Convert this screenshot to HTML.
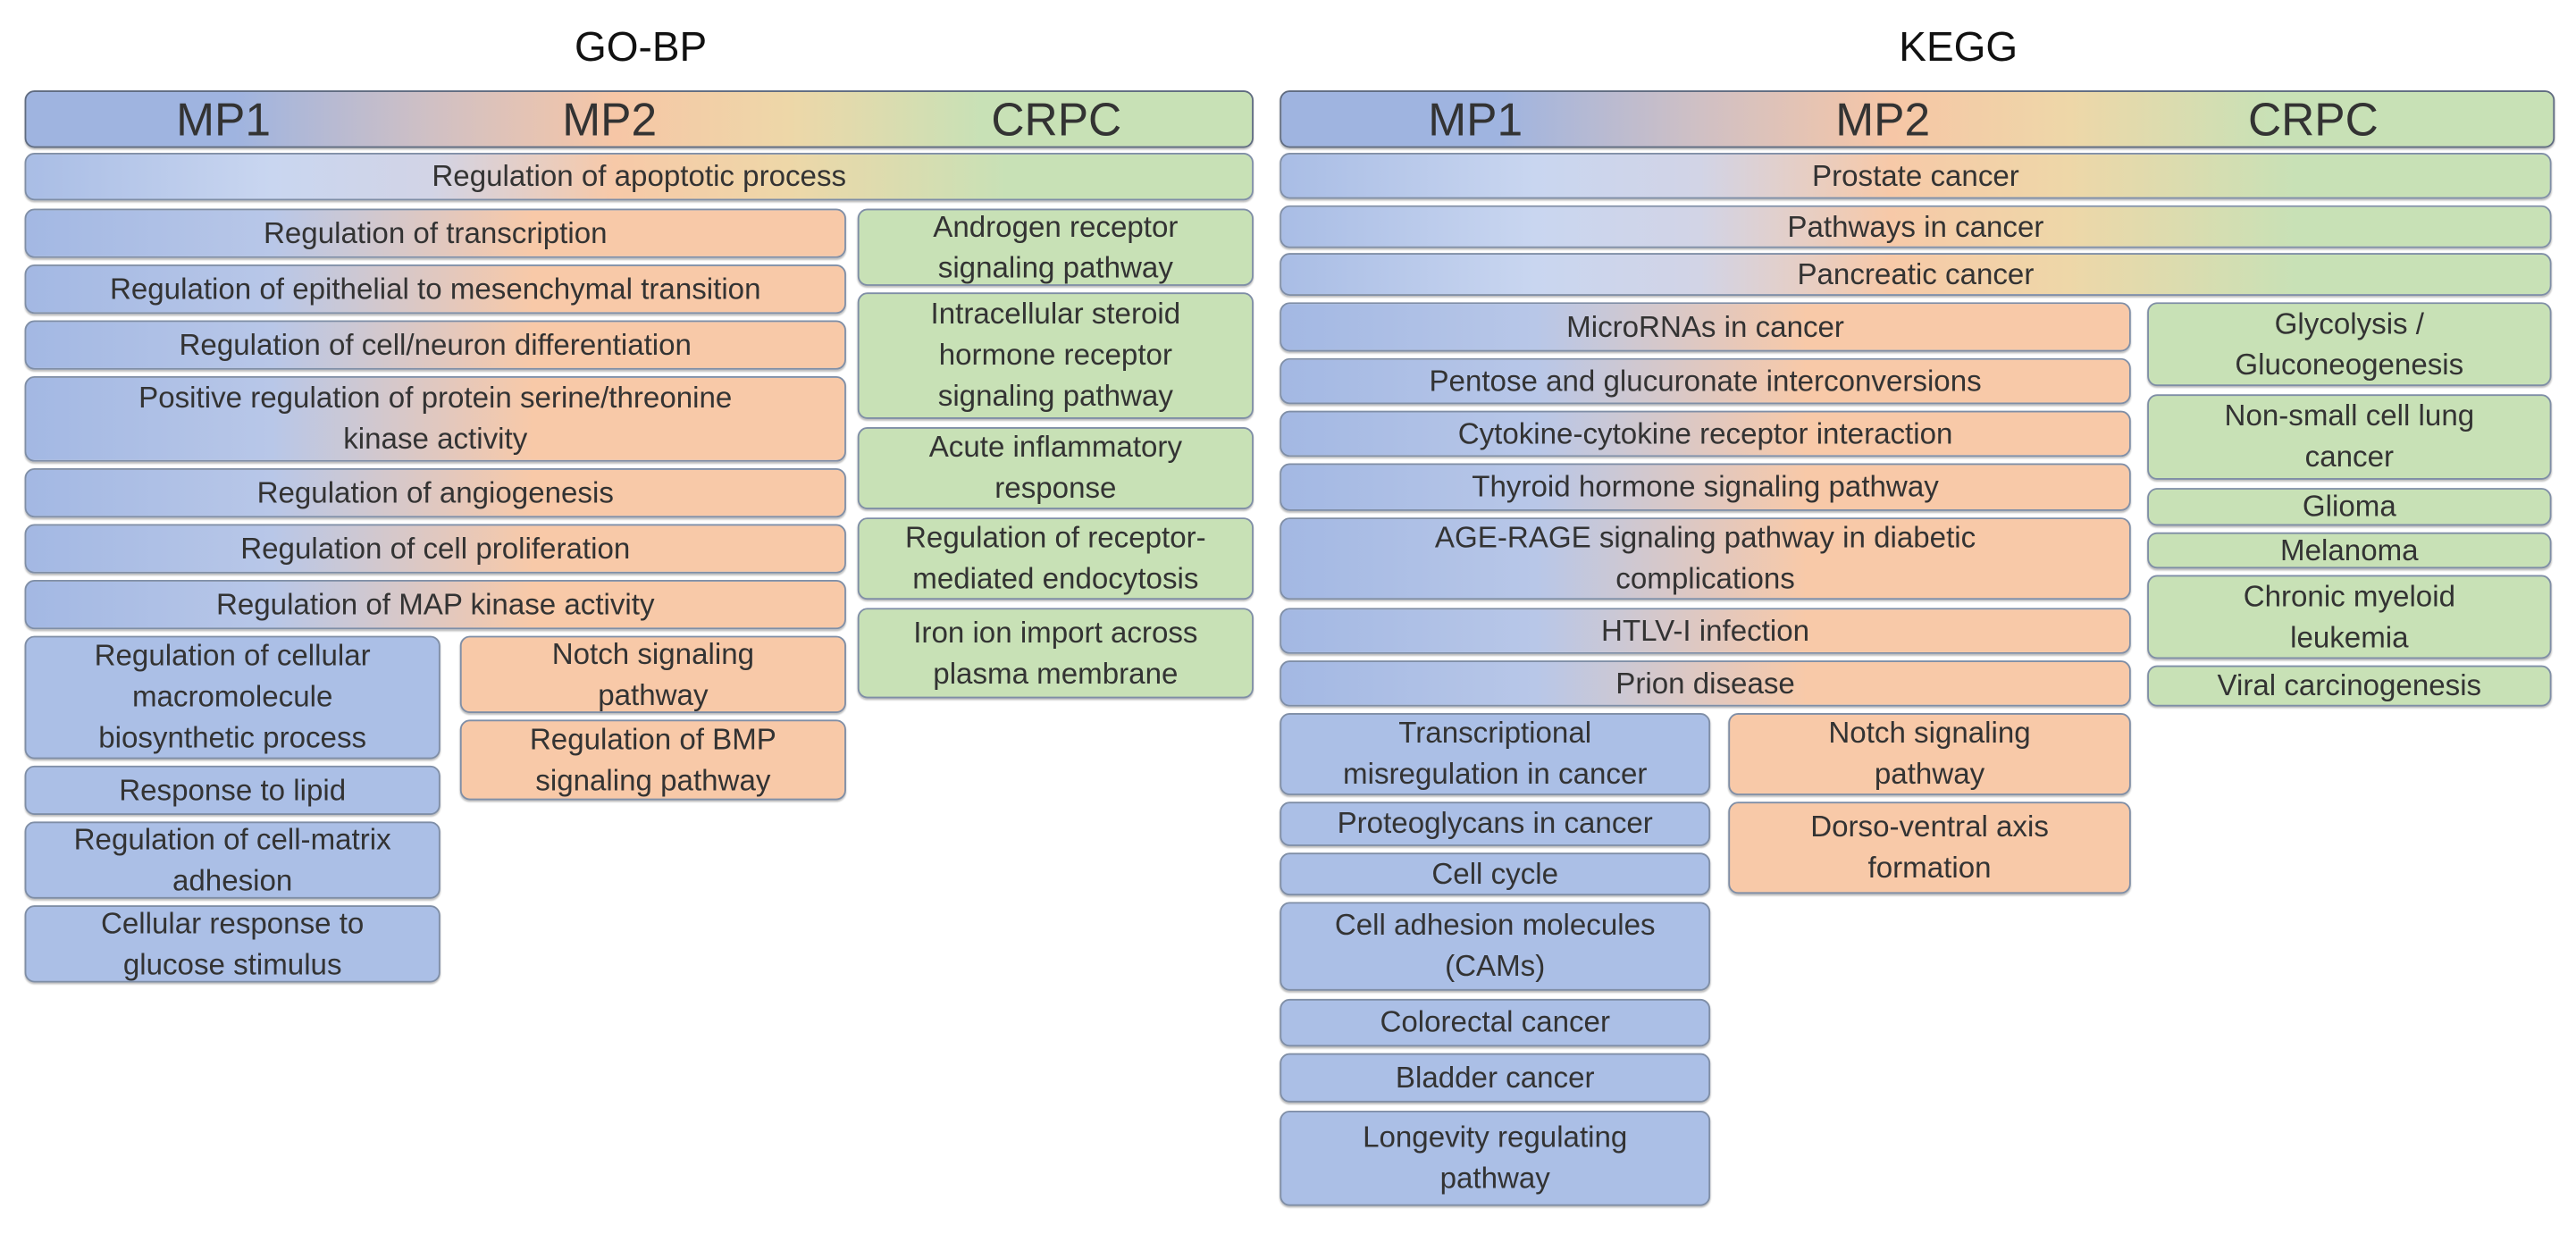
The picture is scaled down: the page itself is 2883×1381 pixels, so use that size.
<!DOCTYPE html>
<html><head><meta charset="utf-8"><style>
html,body{margin:0;padding:0;background:#fff;width:2883px;height:1381px;overflow:hidden}
#s{position:absolute;left:0;top:0;width:1568px;height:751px;transform:scale(1.8387);transform-origin:0 0;font-family:"Liberation Sans",Arial,sans-serif;color:#333}
.b{position:absolute;box-sizing:border-box;border:1.2px solid #7f8ea6;border-radius:6px;display:flex;align-items:center;justify-content:center;text-align:center;font-size:18px;line-height:25px;box-shadow:0 1px 1px rgba(0,0,0,.25)}
.bl{background:#abbfe6}.or{background:#f8c9a8}.gr{background:#c8e1b6}
.bo{background:linear-gradient(90deg,#a3b8e3 0%,#b8c7e8 30%,#f8c9a8 62%,#f8c9a8 100%)}
.full{background:linear-gradient(90deg,#a9bde5 0%,#c9d6f0 20%,#d2d4e6 33%,#f7c9a8 48%,#eed7a8 62%,#c8e1b6 80%,#c8e1b6 100%)}
.hd{background:linear-gradient(90deg,#9fb4e0 0%,#9fb4e0 17%,#d0c0c4 33%,#f6c6a6 48%,#eed7a8 62%,#c8e1b6 78%,#c8e1b6 100%);border:1.5px solid #5f6b80;font-size:28px;display:block}
.hd span{position:absolute;top:50%;transform:translate(-50%,-50%)}
.t{position:absolute;font-size:25px;color:#111;transform:translateX(-50%)}
</style></head><body><div id="s">
<div class="t" style="left:390px;top:15px">GO-BP</div>
<div class="t" style="left:1192px;top:15px">KEGG</div>

<div class="b hd" style="left:15px;top:55px;width:748px;height:35px"><span style="left:120px">MP1</span><span style="left:355px">MP2</span><span style="left:627px">CRPC</span></div>
<div class="b full" style="left:15px;top:93px;width:748px;height:29px">Regulation of apoptotic process</div>
<div class="b bo" style="left:15px;top:127px;width:500px;height:30px">Regulation of transcription</div>
<div class="b bo" style="left:15px;top:161px;width:500px;height:30px">Regulation of epithelial to mesenchymal transition</div>
<div class="b bo" style="left:15px;top:195px;width:500px;height:30px">Regulation of cell/neuron differentiation</div>
<div class="b bo" style="left:15px;top:229px;width:500px;height:52px">Positive regulation of protein serine/threonine<br>kinase activity</div>
<div class="b bo" style="left:15px;top:285px;width:500px;height:30px">Regulation of angiogenesis</div>
<div class="b bo" style="left:15px;top:319px;width:500px;height:30px">Regulation of cell proliferation</div>
<div class="b bo" style="left:15px;top:353px;width:500px;height:30px">Regulation of MAP kinase activity</div>
<div class="b bl" style="left:15px;top:387px;width:253px;height:75px">Regulation of cellular<br>macromolecule<br>biosynthetic process</div>
<div class="b bl" style="left:15px;top:466px;width:253px;height:30px">Response to lipid</div>
<div class="b bl" style="left:15px;top:500px;width:253px;height:47px">Regulation of cell-matrix<br>adhesion</div>
<div class="b bl" style="left:15px;top:551px;width:253px;height:47px">Cellular response to<br>glucose stimulus</div>
<div class="b or" style="left:280px;top:387px;width:235px;height:47px">Notch signaling<br>pathway</div>
<div class="b or" style="left:280px;top:438px;width:235px;height:49px">Regulation of BMP<br>signaling pathway</div>
<div class="b gr" style="left:522px;top:127px;width:241px;height:47px">Androgen receptor<br>signaling pathway</div>
<div class="b gr" style="left:522px;top:178px;width:241px;height:77px">Intracellular steroid<br>hormone receptor<br>signaling pathway</div>
<div class="b gr" style="left:522px;top:260px;width:241px;height:50px">Acute inflammatory<br>response</div>
<div class="b gr" style="left:522px;top:315px;width:241px;height:50px">Regulation of receptor-<br>mediated endocytosis</div>
<div class="b gr" style="left:522px;top:370px;width:241px;height:55px">Iron ion import across<br>plasma membrane</div>

<div class="b hd" style="left:779px;top:55px;width:776px;height:35px"><span style="left:118px">MP1</span><span style="left:366px">MP2</span><span style="left:628px">CRPC</span></div>
<div class="b full" style="left:779px;top:93px;width:774px;height:28px">Prostate cancer</div>
<div class="b full" style="left:779px;top:125px;width:774px;height:26px">Pathways in cancer</div>
<div class="b full" style="left:779px;top:154px;width:774px;height:26px">Pancreatic cancer</div>
<div class="b bo" style="left:779px;top:184px;width:518px;height:30px">MicroRNAs in cancer</div>
<div class="b bo" style="left:779px;top:218px;width:518px;height:28px">Pentose and glucuronate interconversions</div>
<div class="b bo" style="left:779px;top:250px;width:518px;height:28px">Cytokine-cytokine receptor interaction</div>
<div class="b bo" style="left:779px;top:282px;width:518px;height:29px">Thyroid hormone signaling pathway</div>
<div class="b bo" style="left:779px;top:315px;width:518px;height:50px">AGE-RAGE signaling pathway in diabetic<br>complications</div>
<div class="b bo" style="left:779px;top:370px;width:518px;height:28px">HTLV-I infection</div>
<div class="b bo" style="left:779px;top:402px;width:518px;height:28px">Prion disease</div>
<div class="b gr" style="left:1307px;top:184px;width:246px;height:51px">Glycolysis /<br>Gluconeogenesis</div>
<div class="b gr" style="left:1307px;top:240px;width:246px;height:52px">Non-small cell lung<br>cancer</div>
<div class="b gr" style="left:1307px;top:297px;width:246px;height:23px">Glioma</div>
<div class="b gr" style="left:1307px;top:324px;width:246px;height:22px">Melanoma</div>
<div class="b gr" style="left:1307px;top:350px;width:246px;height:51px">Chronic myeloid<br>leukemia</div>
<div class="b gr" style="left:1307px;top:405px;width:246px;height:25px">Viral carcinogenesis</div>
<div class="b bl" style="left:779px;top:434px;width:262px;height:50px">Transcriptional<br>misregulation in cancer</div>
<div class="b bl" style="left:779px;top:488px;width:262px;height:27px">Proteoglycans in cancer</div>
<div class="b bl" style="left:779px;top:519px;width:262px;height:26px">Cell cycle</div>
<div class="b bl" style="left:779px;top:549px;width:262px;height:54px">Cell adhesion molecules<br>(CAMs)</div>
<div class="b bl" style="left:779px;top:608px;width:262px;height:29px">Colorectal cancer</div>
<div class="b bl" style="left:779px;top:641px;width:262px;height:30px">Bladder cancer</div>
<div class="b bl" style="left:779px;top:676px;width:262px;height:58px">Longevity regulating<br>pathway</div>
<div class="b or" style="left:1052px;top:434px;width:245px;height:50px">Notch signaling<br>pathway</div>
<div class="b or" style="left:1052px;top:488px;width:245px;height:56px">Dorso-ventral axis<br>formation</div>
</div></body></html>
